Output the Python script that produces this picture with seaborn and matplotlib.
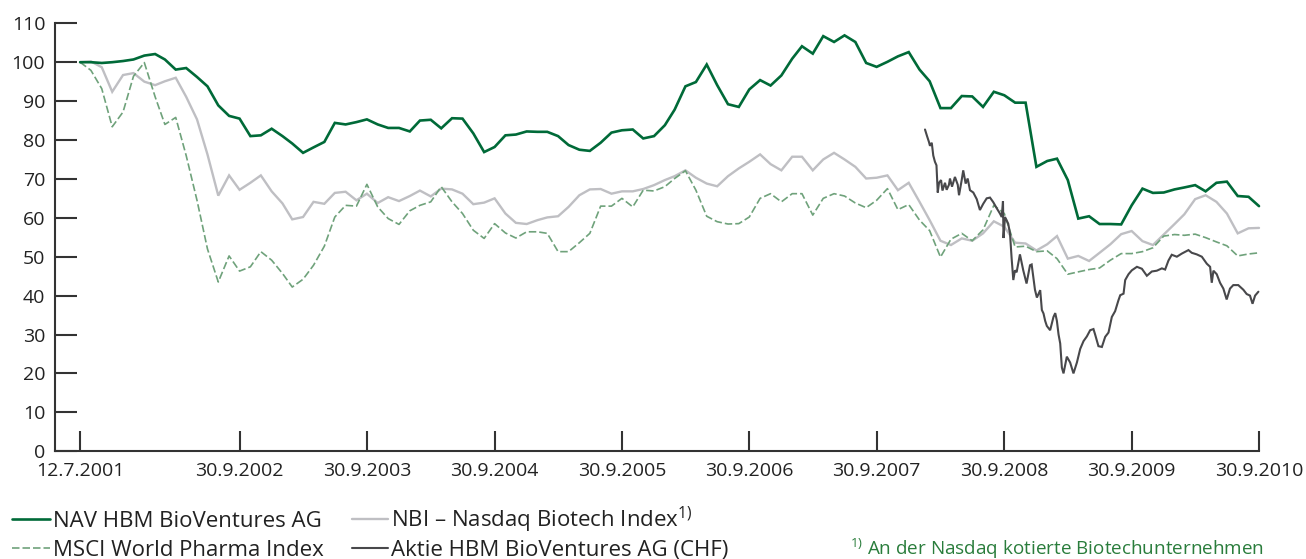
import numpy as np
import pandas as pd
import matplotlib
matplotlib.use("Agg")
import matplotlib.pyplot as plt
import seaborn as sns
from matplotlib.lines import Line2D

# ---------------- data ----------------
nav = [100, 100, 99.8, 100, 100.3, 100.7, 101.7, 102.1, 100.7, 98.1,
       98.5, 96.2, 93.8, 88.9, 86.2, 85.5, 81.0, 81.2, 82.9, 81.0,
       79.1, 76.7, 78.1, 79.5, 84.4, 84.0, 84.6, 85.3, 84.0, 83.1,
       83.1, 82.2, 85.0, 85.2, 83.0, 85.6, 85.5, 81.7, 76.9, 78.2,
       81.2, 81.4, 82.2, 82.1, 82.1, 81.0, 78.7, 77.5, 77.2, 79.3,
       81.9, 82.5, 82.7, 80.4, 81.0, 83.8, 87.8, 93.8, 94.9, 99.4,
       94.1, 89.2, 88.5, 93.0, 95.4, 94.0, 96.6, 100.9, 104.1, 102.2,
       106.7, 105.2, 106.9, 105.2, 99.8, 98.8, 100.1, 101.5, 102.6, 98.1,
       95.1, 88.2, 88.2, 91.3, 91.2, 88.5, 92.4, 91.5, 89.6, 89.6,
       73.1, 74.6, 75.2, 69.7, 59.8, 60.4, 58.4, 58.4, 58.3, 63.2,
       67.5, 66.4, 66.5, 67.3, 67.8, 68.4, 66.8, 69.0, 69.3, 65.6,
       65.4, 63.0]

nbi = [100, 100.2, 98.7, 92.4, 96.7, 97.2, 95.0, 94.1, 95.1, 96.0,
       91.1, 85.3, 76.3, 65.7, 70.9, 67.2, 69.0, 70.9, 66.8, 63.7,
       59.6, 60.2, 64.1, 63.6, 66.4, 66.7, 64.5, 66.2, 63.8, 65.3,
       64.3, 65.6, 67.0, 65.5, 67.5, 67.3, 66.2, 63.5, 63.9, 65.0,
       61.1, 58.7, 58.4, 59.4, 60.1, 60.4, 62.8, 65.8, 67.3, 67.4,
       66.2, 66.8, 66.8, 67.4, 68.4, 69.7, 70.7, 72.2, 70.3, 68.8,
       68.1, 70.7, 72.7, 74.4, 76.3, 73.8, 72.2, 75.7, 75.7, 72.2,
       75.0, 76.7, 75.0, 73.1, 70.1, 70.3, 70.9, 67.1, 69.0, 64.1,
       59.4, 54.1, 53.0, 54.7, 54.1, 56.0, 59.1, 57.7, 53.6, 53.4,
       51.6, 53.2, 55.3, 49.5, 50.2, 48.9, 51.0, 53.2, 55.8, 56.6,
       54.0, 53.0, 55.7, 58.4, 60.9, 64.8, 65.8, 64.1, 61.1, 56.0,
       57.3, 57.4]

msci = [100, 97.9, 93.2, 83.4, 87.2, 96.4, 99.9, 91.1, 84.0, 85.8,
        76.0, 64.5, 52.0, 43.5, 50.2, 46.3, 47.4, 51.3, 49.1, 45.7,
        42.2, 44.2, 47.8, 52.7, 60.2, 63.2, 63.0, 68.6, 62.8, 59.8,
        58.3, 61.8, 63.2, 64.1, 68.0, 64.1, 61.1, 56.8, 54.7, 58.5,
        56.1, 54.8, 56.4, 56.4, 56.0, 51.3, 51.3, 53.6, 56.0, 63.0,
        63.0, 65.0, 62.8, 67.1, 66.9, 68.0, 70.1, 72.1, 67.1, 60.4,
        59.0, 58.4, 58.5, 60.2, 65.0, 66.2, 64.1, 66.2, 66.2, 60.7,
        65.0, 66.2, 65.6, 63.8, 62.6, 64.5, 67.5, 62.1, 63.4, 59.4,
        56.7, 49.9, 54.5, 56.0, 54.1, 56.9, 63.2, 61.1, 52.5, 52.7,
        51.3, 51.5, 49.5, 45.5, 46.1, 46.7, 47.1, 49.1, 50.8, 50.8,
        51.3, 52.3, 55.3, 55.7, 55.5, 55.8, 54.9, 53.8, 52.8, 50.2,
        50.7, 51.0]

# share price (decimal year, value)
aktie_years = [2008.125, 2008.141, 2008.156, 2008.164, 2008.178, 2008.190, 2008.203, 2008.215,
               2008.225, 2008.235, 2008.251, 2008.262, 2008.282, 2008.295, 2008.313, 2008.321,
               2008.337, 2008.360, 2008.382, 2008.392, 2008.413, 2008.425, 2008.444, 2008.460,
               2008.478, 2008.504, 2008.531, 2008.556, 2008.582, 2008.609, 2008.635, 2008.661,
               2008.687, 2008.713, 2008.727, 2008.737, 2008.741, 2008.753, 2008.778, 2008.792,
               2008.805, 2008.818, 2008.831, 2008.844, 2008.870, 2008.896, 2008.922, 2008.949,
               2008.962, 2008.974, 2008.988, 2009.001, 2009.027, 2009.040, 2009.053, 2009.066,
               2009.079, 2009.105, 2009.131, 2009.145, 2009.158, 2009.171, 2009.184, 2009.197,
               2009.210, 2009.236, 2009.262, 2009.288, 2009.315, 2009.341, 2009.367, 2009.393,
               2009.419, 2009.445, 2009.458, 2009.484, 2009.511, 2009.537, 2009.563, 2009.589,
               2009.615, 2009.641, 2009.655, 2009.681, 2009.694, 2009.720, 2009.746, 2009.786,
               2009.825, 2009.864, 2009.903, 2009.942, 2009.982, 2010.008, 2010.034, 2010.060,
               2010.100, 2010.139, 2010.191, 2010.217, 2010.256, 2010.296, 2010.335, 2010.361,
               2010.374, 2010.387, 2010.413, 2010.439, 2010.465, 2010.491, 2010.517, 2010.543,
               2010.582, 2010.622, 2010.648, 2010.674, 2010.694, 2010.714, 2010.740]
aktie = [82.7, 81.0, 79.5, 78.5, 79.3, 76.0, 74.4, 73.5,
         66.5, 69.0, 69.7, 67.0, 69.0, 67.2, 68.5, 70.1,
         68.0, 70.5, 68.5, 65.8, 69.7, 72.2, 68.8, 70.1,
         67.1, 66.5, 64.8, 62.0, 63.6, 65.0, 65.2, 64.0,
         62.5, 61.1, 60.2, 64.3, 54.8, 60.2, 58.5, 56.0,
         49.5, 44.0, 46.5, 46.0, 50.6, 46.5, 43.1, 47.8,
         48.0, 45.0, 41.5, 39.5, 41.4, 36.3, 35.4, 33.5,
         32.2, 31.1, 34.5, 35.5, 33.5, 30.0, 27.7, 21.5,
         20.0, 24.3, 22.8, 20.0, 22.8, 26.3, 28.3, 29.5,
         31.1, 31.4, 30.0, 27.0, 26.8, 29.4, 30.5, 34.5,
         36.0, 38.8, 40.1, 40.5, 44.0, 45.5, 46.5, 47.4,
         46.9, 45.1, 46.2, 46.4, 47.0, 46.7, 49.0, 50.5,
         50.0, 50.8, 51.7, 51.0, 50.6, 50.0, 48.2, 47.4,
         43.3, 46.4, 45.5, 43.3, 41.8, 39.0, 41.8, 42.7,
         42.7, 41.5, 40.4, 40.0, 37.9, 40.0, 41.0]

tick_dates = ["2001-06-30", "2002-09-30", "2003-09-30", "2004-09-30", "2005-09-30",
              "2006-09-30", "2007-09-30", "2008-09-30", "2009-09-30", "2010-09-30"]
tick_labels = ["12.7.2001", "30.9.2002", "30.9.2003", "30.9.2004", "30.9.2005",
               "30.9.2006", "30.9.2007", "30.9.2008", "30.9.2009", "30.9.2010"]

labels = {"nav": "NAV HBM BioVentures AG",
          "msci": "MSCI World Pharma Index",
          "nbi": "NBI – Nasdaq Biotech Index",
          "aktie": "Aktie HBM BioVentures AG (CHF)"}
footnote = "An der Nasdaq kotierte Biotechunternehmen"

# ---------------- style ----------------
sns.set_theme(style="white")
plt.rcParams["font.family"] = ["Open Sans", "DejaVu Sans"]
plt.rcParams["mathtext.fontset"] = "custom"
plt.rcParams["mathtext.rm"] = "Open Sans"
plt.rcParams["mathtext.it"] = "Open Sans"

C_NAV = "#006a38"
C_MSCI = "#6fa27b"
C_NBI = "#bfbfc3"
C_AKTIE = "#48484b"
C_TXT = "#222222"
C_FOOT = "#2a7d3c"

try:
    months = pd.date_range("2001-06-30", periods=len(nav), freq="ME")
except Exception:
    months = pd.date_range("2001-06-30", periods=len(nav), freq="M")

def yr2date(y):
    yy = int(y)
    return pd.Timestamp(yy, 1, 1) + pd.Timedelta(days=(y - yy) * 365.25)

aktie_dates = [yr2date(y) for y in aktie_years]

df_m = pd.DataFrame({"date": months, "nav": nav, "nbi": nbi, "msci": msci})
df_a = pd.DataFrame({"date": aktie_dates, "aktie": aktie})

W, H = 1306, 559
fig = plt.figure(figsize=(W / 100, H / 100), dpi=100)
ax = fig.add_axes([55 / W, 1 - 451.2 / H, (1259 - 55) / W, (451.2 - 23.3) / H])

sns.lineplot(data=df_m, x="date", y="nbi", ax=ax, color=C_NBI, linewidth=1.7, zorder=2)
sns.lineplot(data=df_m, x="date", y="msci", ax=ax, color=C_MSCI, linewidth=1.2, zorder=3)
ax.lines[-1].set_dashes([4.5, 1.8])
sns.lineplot(data=df_a, x="date", y="aktie", ax=ax, color=C_AKTIE, linewidth=1.5, zorder=4)
sns.lineplot(data=df_m, x="date", y="nav", ax=ax, color=C_NAV, linewidth=1.9, zorder=5)
for ln in ax.lines:
    ln.set_clip_on(False)
    ln.set_solid_joinstyle("miter")

ax.set_xlim(pd.Timestamp("2001-04-19"), pd.Timestamp("2010-09-30"))
ax.set_ylim(0, 110)
ax.set_yticks(range(0, 111, 10))
ax.set_xticks([pd.Timestamp(d) for d in tick_dates])
ax.set_xticklabels(tick_labels)
ax.set_xlabel("")
ax.set_ylabel("")

for s in ["top", "right"]:
    ax.spines[s].set_visible(False)
for s in ["left", "bottom"]:
    ax.spines[s].set_color("#333333")
    ax.spines[s].set_linewidth(1.5)

ax.tick_params(axis="y", direction="in", length=15.5, width=1.5, color="#333333",
               pad=7, labelsize=14, labelcolor=C_TXT, left=True)
ax.tick_params(axis="x", direction="in", length=14.4, width=1.5, color="#333333",
               pad=8, labelsize=14, labelcolor=C_TXT, bottom=True)

# ---------------- manual legend ----------------
def fx(x):
    return x / W

def fy(y):
    return 1 - y / H

leg = [
    (12, 50, 519, 527, C_NAV, 1.9, None, labels["nav"], 53),
    (12, 50, 548, 556, C_MSCI, 1.2, [4.5, 1.8], labels["msci"], 53),
    (352, 388, 519, 527, C_NBI, 1.7, None, labels["nbi"] + r"$^{1)}$", 391),
    (352, 388, 548, 556, C_AKTIE, 1.5, None, labels["aktie"], 391),
]
for x0, x1, ly, by, col, lw, dash, txt, tx in leg:
    l = Line2D([fx(x0), fx(x1)], [fy(ly), fy(ly)], transform=fig.transFigure,
               color=col, linewidth=lw)
    if dash:
        l.set_dashes(dash)
    fig.add_artist(l)
    fig.text(fx(tx), fy(by), txt, fontsize=16, color=C_TXT, ha="left", va="baseline")

fig.text(fx(850), fy(555), r"$^{1)}$ " + footnote, fontsize=13.6, color=C_FOOT,
         ha="left", va="baseline")

fig.savefig("out.png", dpi=100)
